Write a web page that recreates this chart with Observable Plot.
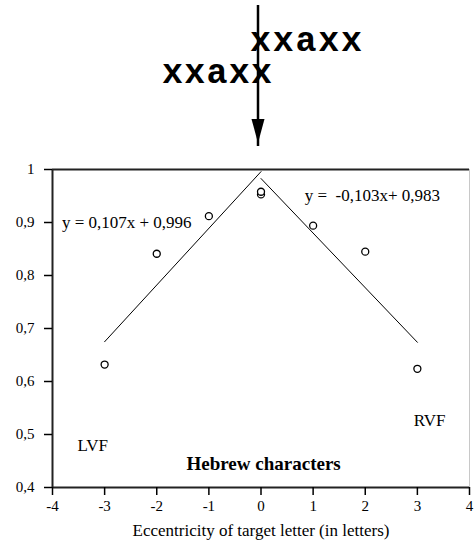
<!DOCTYPE html>
<html>
<head>
<meta charset="utf-8">
<script src="https://cdn.jsdelivr.net/npm/d3@7"></script>
<script src="https://cdn.jsdelivr.net/npm/@observablehq/plot@0.6"></script>
<style>
  html, body { margin: 0; padding: 0; background: white; }
  #header { width: 474px; height: 155px; display: block; }
  #chart svg { display: block; }
</style>
</head>
<body>
<svg id="header" width="474" height="155" xmlns="http://www.w3.org/2000/svg">
  <text x="250" y="51" font-family="Liberation Mono, Courier New, monospace" font-weight="bold" font-size="35" fill="#000" textLength="112">xxaxx</text>
  <text x="162" y="83" font-family="Liberation Mono, Courier New, monospace" font-weight="bold" font-size="35" fill="#000" textLength="110">xxaxx</text>
  <line x1="258" y1="5" x2="258" y2="146" stroke="#000" stroke-width="2.5"/>
  <polygon points="251.5,119 264.5,119 258,143" fill="#000"/>
</svg>
<div id="chart"></div>
<script>
// Data
const eccentricity = [-3, -2, -1, 0, 0, 1, 2, 3];
const proportion   = [0.632, 0.841, 0.912, 0.953, 0.958, 0.894, 0.845, 0.624];

const leftTrendX  = [-3, 0];
const leftTrendY  = [0.675, 0.996];
const rightTrendX = [0, 3];
const rightTrendY = [0.983, 0.674];

const xTicks = [-4, -3, -2, -1, 0, 1, 2, 3, 4];
const yTicks = [0.4, 0.5, 0.6, 0.7, 0.8, 0.9, 1];

const annotText = ["y = 0,107x + 0,996", "y =  -0,103x+ 0,983", "LVF", "RVF"];
const annotX    = [-3.82, 0.84, -3.52, 2.93];
const annotY    = [0.9, 0.951, 0.479, 0.526];

const captionText = ["Hebrew characters"];
const captionX = [0.05];
const captionY = [0.445];

const points = eccentricity.map((x, i) => ({x, y: proportion[i]}));
const leftTrend = leftTrendX.map((x, i) => ({x, y: leftTrendY[i]}));
const rightTrend = rightTrendX.map((x, i) => ({x, y: rightTrendY[i]}));
const annots = annotText.map((t, i) => ({t, x: annotX[i], y: annotY[i]}));
const captions = captionText.map((t, i) => ({t, x: captionX[i], y: captionY[i]}));

const fmtY = d => String(d).replace(".", ",");

const chart = Plot.plot({
  width: 474,
  height: 389,
  marginTop: 14,
  marginLeft: 52,
  marginRight: 5,
  marginBottom: 57,
  style: {fontFamily: "Liberation Serif, Times New Roman, serif", fontSize: "15px", color: "#000", background: "white"},
  x: {domain: [-4, 4]},
  y: {domain: [0.4, 1]},
  marks: [
    Plot.frame({stroke: "#c8c8c8", strokeWidth: 1}),
    Plot.ruleY([1], {stroke: "#222", strokeWidth: 2}),
    Plot.ruleY([0.4], {stroke: "#222", strokeWidth: 2}),
    Plot.ruleX([-4], {stroke: "#222", strokeWidth: 2}),
    Plot.axisY({ticks: yTicks, tickSize: 8, tickPadding: 10, tickFormat: fmtY, label: null, strokeWidth: 1.5, fontSize: 15}),
    Plot.axisX({ticks: xTicks, tickSize: 8, tickPadding: 5, tickFormat: d => String(d), fontSize: 15,
      label: "Eccentricity of target letter (in letters)", labelAnchor: "center", labelArrow: "none", labelOffset: 48, strokeWidth: 1.5}),
    Plot.text(["Eccentricity of target letter (in letters)"].slice(0, 0), {}),
    Plot.line(leftTrend, {x: "x", y: "y", stroke: "#000", strokeWidth: 1}),
    Plot.line(rightTrend, {x: "x", y: "y", stroke: "#000", strokeWidth: 1}),
    Plot.dot(points, {x: "x", y: "y", r: 3.5, stroke: "#000", strokeWidth: 1.3, fill: "white"}),
    Plot.text(annots, {x: "x", y: "y", text: "t", textAnchor: "start", fontSize: 17, fill: "#000"}),
    Plot.text(captions, {x: "x", y: "y", text: "t", textAnchor: "middle", fontSize: 19, fontWeight: "bold", fill: "#000"})
  ]
});
document.getElementById("chart").appendChild(chart);
// widen the axis label font to match the reference
chart.querySelectorAll("text").forEach(t => {
  if (t.textContent.startsWith("Eccentricity")) t.setAttribute("font-size", "17");
});
</script>
</body>
</html>
